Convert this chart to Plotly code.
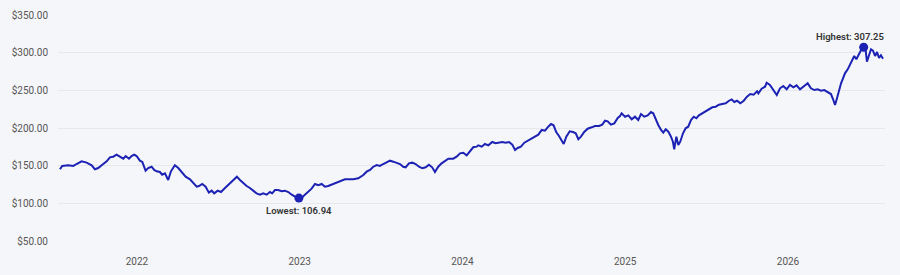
import plotly.graph_objects as go

# time as decimal year, closing price in USD
years = [
    2021.527, 2021.541, 2021.578, 2021.609, 2021.629, 2021.660, 2021.691, 2021.722, 2021.742, 2021.762,
    2021.793, 2021.814, 2021.834, 2021.854, 2021.875, 2021.896, 2021.916, 2021.931, 2021.951, 2021.967,
    2021.983, 2021.998, 2022.018, 2022.033, 2022.053, 2022.069, 2022.090, 2022.106, 2022.121, 2022.141,
    2022.155, 2022.172, 2022.192, 2022.209, 2022.233, 2022.254, 2022.275, 2022.299, 2022.326, 2022.346,
    2022.367, 2022.381, 2022.401, 2022.422, 2022.442, 2022.459, 2022.475, 2022.496, 2022.516, 2022.541,
    2022.561, 2022.582, 2022.598, 2022.614, 2022.633, 2022.653, 2022.674, 2022.694, 2022.715, 2022.735,
    2022.756, 2022.776, 2022.797, 2022.817, 2022.831, 2022.848, 2022.868, 2022.889, 2022.909, 2022.930,
    2022.951, 2022.971, 2022.995, 2023.016, 2023.032, 2023.053, 2023.073, 2023.094, 2023.114, 2023.135,
    2023.155, 2023.175, 2023.196, 2023.217, 2023.241, 2023.278, 2023.329, 2023.360, 2023.391, 2023.411,
    2023.432, 2023.452, 2023.473, 2023.493, 2023.513, 2023.534, 2023.555, 2023.575, 2023.596, 2023.616,
    2023.636, 2023.651, 2023.671, 2023.692, 2023.712, 2023.733, 2023.753, 2023.774, 2023.794, 2023.814,
    2023.831, 2023.851, 2023.872, 2023.892, 2023.913, 2023.943, 2023.964, 2023.985, 2024.005, 2024.026,
    2024.046, 2024.066, 2024.087, 2024.097, 2024.118, 2024.138, 2024.159, 2024.183, 2024.204, 2024.224,
    2024.245, 2024.265, 2024.286, 2024.306, 2024.323, 2024.339, 2024.359, 2024.380, 2024.401, 2024.421,
    2024.441, 2024.466, 2024.487, 2024.507, 2024.527, 2024.544, 2024.560, 2024.576, 2024.593, 2024.605,
    2024.622, 2024.638, 2024.659, 2024.679, 2024.696, 2024.712, 2024.728, 2024.748, 2024.769, 2024.794,
    2024.814, 2024.839, 2024.859, 2024.876, 2024.892, 2024.912, 2024.933, 2024.954, 2024.968, 2024.978,
    2024.999, 2025.019, 2025.040, 2025.060, 2025.080, 2025.097, 2025.117, 2025.138, 2025.158, 2025.172,
    2025.187, 2025.203, 2025.220, 2025.234, 2025.249, 2025.265, 2025.281, 2025.293, 2025.301, 2025.314,
    2025.326, 2025.338, 2025.355, 2025.371, 2025.387, 2025.404, 2025.421, 2025.437, 2025.453, 2025.473,
    2025.494, 2025.515, 2025.535, 2025.556, 2025.576, 2025.596, 2025.617, 2025.638, 2025.654, 2025.670,
    2025.687, 2025.707, 2025.728, 2025.748, 2025.768, 2025.789, 2025.810, 2025.818, 2025.838, 2025.859,
    2025.869, 2025.889, 2025.910, 2025.931, 2025.951, 2025.971, 2025.992, 2026.012, 2026.033, 2026.053,
    2026.074, 2026.094, 2026.121, 2026.141, 2026.162, 2026.182, 2026.203, 2026.223, 2026.244, 2026.264,
    2026.277, 2026.289, 2026.301, 2026.313, 2026.326, 2026.338, 2026.350, 2026.367, 2026.383, 2026.395,
    2026.407, 2026.420, 2026.432, 2026.449, 2026.465, 2026.477, 2026.485, 2026.498, 2026.510, 2026.522,
    2026.535, 2026.547, 2026.559, 2026.571, 2026.584,
]
prices = [
    145.2, 149.6, 150.5, 149.6, 152.2, 155.8, 154.0, 150.5, 145.2, 146.9,
    152.2, 155.8, 161.1, 161.9, 164.6, 161.9, 159.3, 162.8, 159.3, 162.8,
    164.6, 162.8, 156.6, 154.9, 143.3, 146.9, 148.6, 144.3, 142.5, 141.6,
    138.0, 139.9, 131.0, 142.5, 150.5, 146.9, 141.6, 135.4, 131.9, 126.6,
    122.1, 123.0, 125.7, 122.1, 114.2, 116.8, 113.3, 116.8, 115.0, 120.4,
    124.8, 128.3, 132.7, 135.4, 131.0, 126.6, 123.0, 120.4, 116.8, 113.3,
    111.5, 113.3, 111.5, 115.0, 113.3, 117.7, 117.7, 116.0, 116.8, 115.0,
    111.5, 108.8, 106.94, 108.0, 111.5, 115.0, 119.5, 125.7, 124.0, 125.7,
    122.1, 123.0, 124.8, 126.6, 129.3, 131.9, 131.9, 133.2, 137.6, 142.0,
    144.3, 148.6, 150.9, 149.6, 152.2, 154.0, 156.6, 155.3, 154.0, 152.2,
    148.6, 147.8, 153.1, 154.0, 152.2, 148.6, 146.5, 147.8, 151.3, 147.8,
    141.6, 148.6, 153.1, 156.6, 159.3, 159.3, 161.9, 166.4, 167.2, 163.7,
    169.0, 174.4, 175.2, 177.0, 175.2, 178.8, 177.0, 181.4, 179.7, 180.5,
    181.4, 180.5, 181.4, 177.9, 170.8, 173.5, 175.2, 180.5, 183.1, 185.8,
    188.5, 191.1, 197.4, 196.5, 201.7, 205.3, 203.6, 194.7, 189.4, 184.1,
    178.8, 188.5, 195.6, 194.7, 193.0, 185.0, 188.5, 194.7, 199.1, 200.9,
    202.7, 202.7, 204.4, 209.7, 208.9, 204.4, 206.2, 213.3, 215.9, 219.5,
    215.0, 216.8, 211.6, 215.0, 210.6, 218.6, 215.0, 216.8, 221.2, 219.5,
    210.6, 204.0, 197.4, 193.8, 198.3, 195.1, 188.5, 181.8, 171.7, 188.5,
    177.4, 181.8, 193.0, 199.6, 201.7, 210.6, 215.0, 212.9, 216.8, 219.5,
    221.2, 224.8, 227.5, 228.3, 231.0, 231.9, 232.8, 236.2, 238.0, 234.5,
    236.2, 232.8, 236.2, 241.6, 245.1, 244.2, 248.7, 246.0, 252.2, 254.8,
    260.1, 257.1, 250.4, 243.8, 252.7, 255.8, 251.4, 257.1, 254.0, 256.7,
    251.4, 254.8, 259.3, 252.7, 250.4, 251.4, 249.5, 250.4, 247.8, 245.1,
    238.1, 230.5, 239.4, 250.4, 259.3, 266.0, 272.6, 277.9, 285.9, 292.0,
    295.6, 291.2, 296.9, 303.5, 307.25, 303.5, 288.0, 298.2, 304.5, 302.6,
    295.6, 300.9, 293.0, 296.5, 292.0,
]
year_ticks = [2022, 2023, 2024, 2025, 2026]
price_ticks = [50, 100, 150, 200, 250, 300, 350]
price_labels = ["$50.00", "$100.00", "$150.00", "$200.00", "$250.00", "$300.00", "$350.00"]

LINE = "#1c22b4"
BG = "#f5f6f9"
FONT = "Roboto, sans-serif"

i_lo = prices.index(min(prices))
i_hi = prices.index(max(prices))

fig = go.Figure()
fig.add_trace(go.Scatter(
    x=years, y=prices, mode="lines",
    line=dict(color=LINE, width=2), hoverinfo="skip", showlegend=False,
))
fig.add_trace(go.Scatter(
    x=[years[i_lo], years[i_hi]], y=[prices[i_lo], prices[i_hi]],
    mode="markers", marker=dict(color=LINE, size=9), showlegend=False,
))
fig.add_annotation(x=years[i_lo], y=prices[i_lo], text=f"Lowest: {prices[i_lo]:.2f}",
                   showarrow=False, yshift=-12, font=dict(size=9.5, color="#333", family=FONT, weight=600))
fig.add_annotation(x=years[i_hi], y=prices[i_hi], text=f"Highest: {prices[i_hi]:.2f}",
                   showarrow=False, yshift=11, xshift=-14,
                   font=dict(size=9.5, color="#333", family=FONT, weight=600))

fig.update_layout(
    width=900, height=275,
    margin=dict(l=58, r=15, t=15, b=34),
    paper_bgcolor=BG, plot_bgcolor=BG,
    font=dict(family=FONT, size=10, color="#555"),
)
fig.update_xaxes(
    range=[2021.515, 2026.596], tickvals=year_ticks, ticktext=[str(y) for y in year_ticks],
    showgrid=False, zeroline=False, showline=False,
    ticks="outside", ticklen=11, tickcolor=BG, automargin=False,
)
fig.update_yaxes(
    range=[50, 350], tickvals=price_ticks, ticktext=price_labels,
    showgrid=True, gridcolor="#e6e8ed", gridwidth=1, zeroline=False, showline=False,
    ticks="outside", ticklen=7, tickcolor=BG, automargin=False,
)
fig.write_html("out.html")
